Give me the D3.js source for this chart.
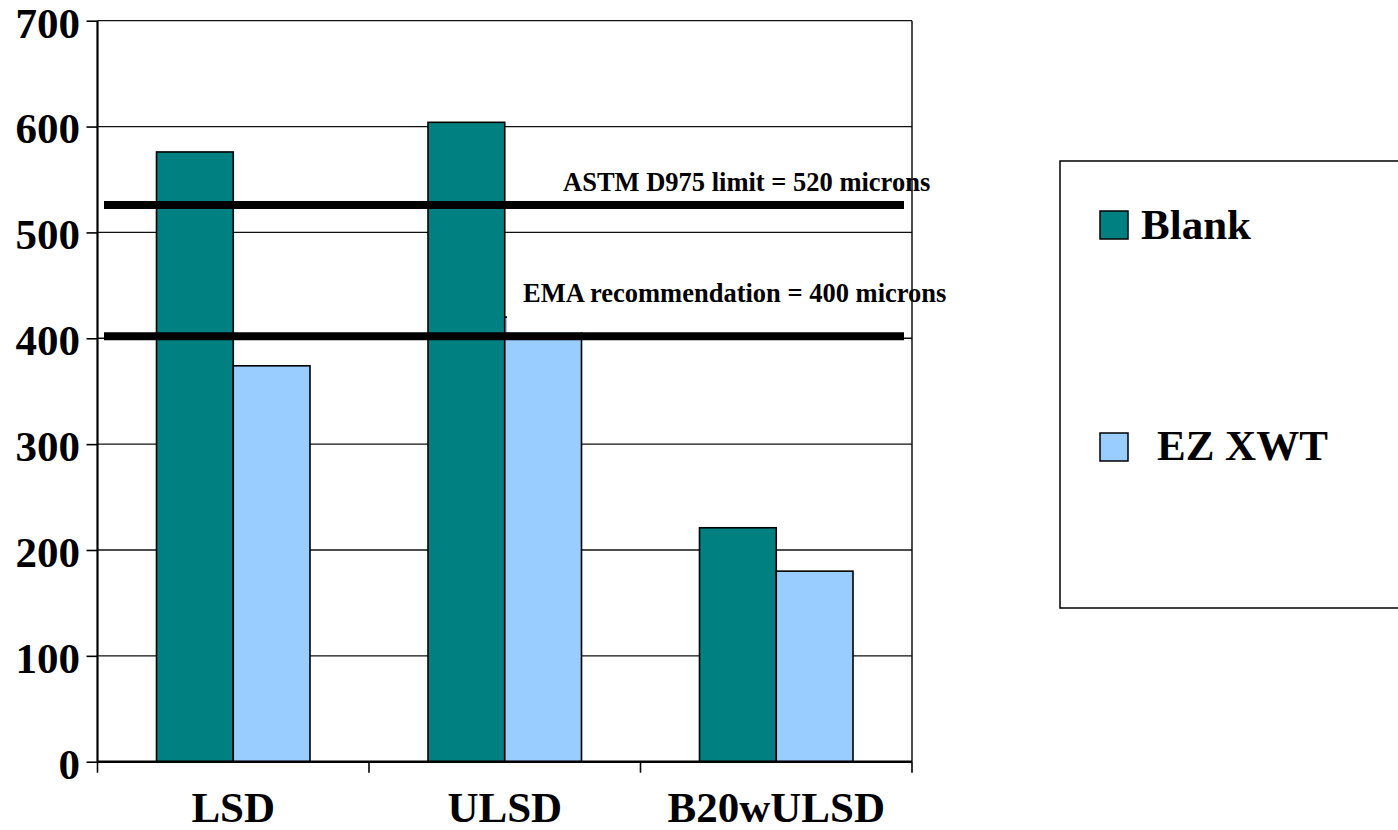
<!DOCTYPE html>
<html>
<head>
<meta charset="utf-8">
<script src="https://cdn.jsdelivr.net/npm/d3@7/dist/d3.min.js"></script>
</head>
<body style="margin:0;padding:0;background:#fff">
<svg id="chart" width="1398" height="830" style="display:block;background:#fff"></svg>
<script>
// ---- data ----
const categories = ["LSD", "ULSD", "B20wULSD"];
const seriesNames = ["Blank", "EZ XWT"];
const blankValues = [576, 604, 221];
const ezxwtValues = [374, 420, 180];
const yTickValues = [0, 100, 200, 300, 400, 500, 600, 700];
const refLineValues = [526, 402];
const refLineLabels = ["ASTM D975 limit = 520 microns", "EMA recommendation = 400 microns"];
const seriesColors = ["#008080", "#99CCFF"];

const FONT = "'Liberation Serif', 'Times New Roman', serif";
function styleText(sel, size) {
  return sel.style("font-family", FONT).style("font-weight", "bold")
    .style("font-size", size + "px").style("fill", "#000");
}

// ---- layout ----
const svg = d3.select("#chart");
const plotLeft = 97.5, plotRight = 912, plotTop = 20.7, plotBottom = 761.7;

const y = d3.scaleLinear().domain([0, 700]).range([plotBottom, plotTop]);
const x0 = d3.scaleBand().domain(categories).range([plotLeft, plotRight]).padding(0);
const groupPad = 59;
const x1 = d3.scaleBand().domain(seriesNames).range([groupPad, x0.bandwidth() - groupPad]).padding(0);
const color = d3.scaleOrdinal().domain(seriesNames).range(seriesColors);

const rows = categories.map((c, i) => ({ cat: c, values: [
  { name: seriesNames[0], value: blankValues[i] },
  { name: seriesNames[1], value: ezxwtValues[i] }
]}));

// gridlines
svg.append("g")
  .selectAll("line")
  .data(yTickValues.filter(v => v > 0))
  .join("line")
  .attr("x1", plotLeft).attr("x2", plotRight)
  .attr("y1", d => y(d)).attr("y2", d => y(d))
  .attr("stroke", "#111").attr("stroke-width", 1.3);

// bars
svg.append("g")
  .selectAll("g")
  .data(rows)
  .join("g")
  .attr("transform", d => `translate(${x0(d.cat)},0)`)
  .selectAll("rect")
  .data(d => d.values)
  .join("rect")
  .attr("x", d => x1(d.name))
  .attr("width", x1.bandwidth())
  .attr("y", d => y(d.value))
  .attr("height", d => y(0) - y(d.value))
  .attr("fill", d => color(d.name))
  .attr("stroke", "#000")
  .attr("stroke-width", 1.6);

// label box (white) behind the EMA text
svg.append("rect")
  .attr("x", 507).attr("y", 272)
  .attr("width", 450).attr("height", y(refLineValues[1]) - 4 - 272)
  .attr("fill", "#fff");

// reference labels
const refLabelPos = [{ x: 563, y: 191 }, { x: 523, y: 301.5 }];
styleText(svg.append("g")
  .selectAll("text")
  .data(refLineLabels)
  .join("text")
  .attr("x", (d, i) => refLabelPos[i].x)
  .attr("y", (d, i) => refLabelPos[i].y), 26.5)
  .text(d => d);

// reference lines
svg.append("g")
  .selectAll("line")
  .data(refLineValues)
  .join("line")
  .attr("x1", 104).attr("x2", 904)
  .attr("y1", d => y(d)).attr("y2", d => y(d))
  .attr("stroke", "#000").attr("stroke-width", 8);

// right border
svg.append("line")
  .attr("x1", plotRight).attr("x2", plotRight)
  .attr("y1", plotTop).attr("y2", plotBottom)
  .attr("stroke", "#000").attr("stroke-width", 1.4);

// y axis
const yAxis = svg.append("g")
  .attr("transform", `translate(${plotLeft},0)`)
  .call(d3.axisLeft(y).tickValues(yTickValues).tickSize(11).tickPadding(6).tickFormat(d3.format("d")));
yAxis.select(".domain").attr("stroke", "#000").attr("stroke-width", 2.2).attr("d", `M0,${plotTop}V${plotBottom}`);
yAxis.selectAll(".tick line").attr("stroke", "#000").attr("stroke-width", 1.6);
styleText(yAxis.selectAll(".tick text"), 43)
  .attr("x", -17.5)
  .attr("dy", "0.38em");

// x axis
const xAxis = svg.append("g")
  .attr("transform", `translate(0,${plotBottom})`)
  .call(d3.axisBottom(x0).tickSize(0).tickPadding(0));
xAxis.select(".domain").attr("stroke", "#000").attr("stroke-width", 2.4).attr("d", `M${plotLeft},0H${plotRight}`);
styleText(xAxis.selectAll(".tick text"), 43)
  .attr("y", 60)
  .attr("dy", 0);
// category boundary ticks
const boundaries = categories.map(c => x0(c)).concat([x0.range()[1]]);
svg.append("g")
  .selectAll("line")
  .data(boundaries)
  .join("line")
  .attr("x1", d => d).attr("x2", d => d)
  .attr("y1", plotBottom).attr("y2", plotBottom + 11)
  .attr("stroke", "#000").attr("stroke-width", 1.6);

// legend
const legend = svg.append("g");
legend.append("rect")
  .attr("x", 1060).attr("y", 161)
  .attr("width", 360).attr("height", 447)
  .attr("fill", "#fff").attr("stroke", "#000").attr("stroke-width", 1.5);
const legendRows = [{ sy: 211, tx: 1141, ty: 239 }, { sy: 433, tx: 1157, ty: 460 }];
const li = legend.selectAll("g.item")
  .data(seriesNames)
  .join("g").attr("class", "item");
li.append("rect")
  .attr("x", 1100).attr("y", (d, i) => legendRows[i].sy)
  .attr("width", 28).attr("height", 28)
  .attr("fill", d => color(d)).attr("stroke", "#000").attr("stroke-width", 1.5);
styleText(li.append("text")
  .attr("x", (d, i) => legendRows[i].tx)
  .attr("y", (d, i) => legendRows[i].ty), 43)
  .text(d => d);
</script>
</body>
</html>
